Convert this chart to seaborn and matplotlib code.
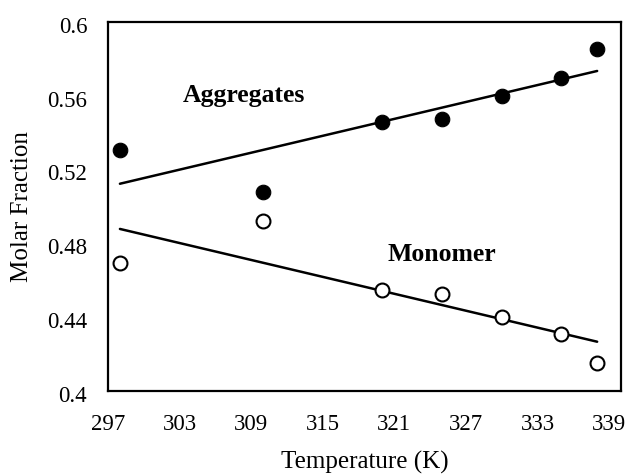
import matplotlib
matplotlib.use("Agg")
import matplotlib.pyplot as plt
import matplotlib.transforms as mtransforms
import seaborn as sns
import pandas as pd

# Molar fractions of aggregated and monomeric species vs temperature
temperature = [298, 310, 320, 325, 330, 335, 338]
aggregates = [0.5306, 0.5078, 0.5456, 0.5474, 0.5598, 0.5694, 0.5852]
monomer = [0.4694, 0.4922, 0.4544, 0.4526, 0.4402, 0.4306, 0.4148]

x_ticks = [297, 303, 309, 315, 321, 327, 333, 339]
y_ticks = [0.40, 0.44, 0.48, 0.52, 0.56, 0.60]
y_tick_labels = ["0.4", "0.44", "0.48", "0.52", "0.56", "0.6"]

df = pd.DataFrame({"T": temperature, "Aggregates": aggregates, "Monomer": monomer})

sns.set_theme(style="white")
plt.rcParams["font.family"] = ["Liberation Serif", "DejaVu Serif"]

fig = plt.figure(figsize=(6.29, 4.75), dpi=100)
ax = fig.add_axes([0.1717, 0.1775, 0.8156, 0.7762])

# Linear trend lines
line_kws = {"color": "black", "linewidth": 1.8, "zorder": 2}
sns.regplot(data=df, x="T", y="Aggregates", ax=ax, scatter=False, ci=None,
            truncate=True, line_kws=line_kws)
sns.regplot(data=df, x="T", y="Monomer", ax=ax, scatter=False, ci=None,
            truncate=True, line_kws=line_kws)

# Data points: filled for aggregates, open for monomer
sns.scatterplot(data=df, x="T", y="Aggregates", ax=ax, s=110, color="black",
                edgecolor="black", linewidth=0.8, zorder=3)
sns.scatterplot(data=df, x="T", y="Monomer", ax=ax, s=100, facecolor="white",
                edgecolor="black", linewidth=1.5, zorder=3)

ax.set_xlim(297, 340)
ax.set_ylim(0.4, 0.6)
ax.set_xticks(x_ticks)
ax.set_yticks(y_ticks)
ax.set_yticklabels(y_tick_labels)
ax.tick_params(axis="both", labelsize=16.5, length=0, colors="black")
ax.tick_params(axis="x", pad=17)
ax.tick_params(axis="y", pad=15)

# y tick labels sit slightly below their gridline positions
shift = mtransforms.ScaledTranslation(0, -3 / 100, fig.dpi_scale_trans)
for lbl in ax.get_yticklabels():
    lbl.set_transform(lbl.get_transform() + shift)

ax.set_xlabel("Temperature (K)", fontsize=18, color="black", labelpad=11)
ax.set_ylabel("Molar Fraction", fontsize=18, color="black", labelpad=10)

for side in ax.spines.values():
    side.set_visible(True)
    side.set_color("black")
    side.set_linewidth(1.6)

ax.text(308.4, 0.5566, "Aggregates", fontsize=18.5, fontweight="bold",
        ha="center", va="baseline", color="black")
ax.text(325.0, 0.4704, "Monomer", fontsize=18.5, fontweight="bold",
        ha="center", va="baseline", color="black")

fig.savefig("out.png", dpi=100, facecolor="white")
